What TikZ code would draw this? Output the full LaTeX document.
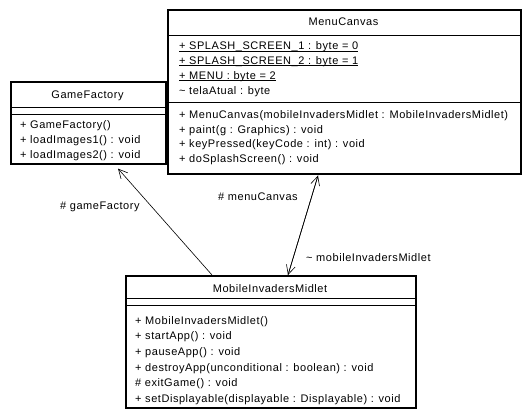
\documentclass[tikz,border=0pt]{standalone}
\usepackage{fontspec}
\setmainfont{Liberation Sans}
\newfontfamily\umlfont[LetterSpace=5]{Liberation Sans}
\usetikzlibrary{arrows.meta,calc}
\tikzset{
  classbox/.style={draw, line width=1.6pt, anchor=north west, inner sep=0pt},
  sep/.style={line width=0.9pt},
  member/.style={anchor=base west, inner sep=0pt, font=\umlfont\fontsize{11}{13}\selectfont},
  title/.style={anchor=base, inner sep=0pt, font=\umlfont\fontsize{11}{13}\selectfont},
  uline/.style={line width=0.8pt},
  assoc/.style={line width=0.6pt},
  openhead/.style={-{Straight Barb[length=9pt,width=9pt,line width=0.6pt]}},
  lbl/.style={inner sep=0pt, anchor=base west, font=\umlfont\fontsize{11}{13}\selectfont}
}
\begin{document}
\begin{tikzpicture}[x=1pt,y=-1pt]
\useasboundingbox (0,0) rectangle (530,420);
% MenuCanvas
\node[classbox, minimum width=353pt, minimum height=164pt] (mc) at (167,9) {};
\node[title] (mct) at (343.5,26) {MenuCanvas};
\draw[sep] (167,35) -- (520,35);
\draw[sep] (167,102) -- (520,102);
\node[member] (mca1) at (179,50) {+ SPLASH\_SCREEN\_1 : byte = 0};
\node[member] (mca2) at (179,64.5) {+ SPLASH\_SCREEN\_2 : byte = 1};
\node[member] (mca3) at (179,79) {+ MENU : byte = 2};
\node[member] (mca4) at (179,94) {\char`\~{} telaAtual : byte};
\foreach \n in {mca1,mca2,mca3}
  \draw[uline] ([yshift=-1.2pt]\n.base west) -- ([yshift=-1.2pt]\n.base east);
\node[member] (mco1) at (179,118) {+ MenuCanvas(mobileInvadersMidlet : MobileInvadersMidlet)};
\node[member] (mco2) at (179,133) {+ paint(g : Graphics) : void};
\node[member] (mco3) at (179,147.5) {+ keyPressed(keyCode : int) : void};
\node[member] (mco4) at (179,162) {+ doSplashScreen() : void};
% GameFactory
\node[classbox, minimum width=155pt, minimum height=82pt] (gf) at (10,81) {};
\node[title] (gft) at (87.5,98) {GameFactory};
\draw[sep] (10,107) -- (165,107);
\draw[sep] (10,114) -- (165,114);
\node[member] (gfo1) at (20,128.5) {+ GameFactory()};
\node[member] (gfo2) at (20,143.5) {+ loadImages1() : void};
\node[member] (gfo3) at (20,158.5) {+ loadImages2() : void};
% MobileInvadersMidlet
\node[classbox, minimum width=290pt, minimum height=132pt] (mim) at (125,275) {};
\node[title] (mimt) at (270,292) {MobileInvadersMidlet};
\draw[sep] (125,298) -- (415,298);
\draw[sep] (125,305) -- (415,305);
\node[member] (mimo1) at (135,324) {+ MobileInvadersMidlet()};
\node[member] (mimo2) at (135,339.5) {+ startApp() : void};
\node[member] (mimo3) at (135,355) {+ pauseApp() : void};
\node[member] (mimo4) at (135,371) {+ destroyApp(unconditional : boolean) : void};
\node[member] (mimo5) at (135,386.5) {\# exitGame() : void};
\node[member] (mimo6) at (135,402) {+ setDisplayable(displayable : Displayable) : void};
% associations
\coordinate (gfend) at ($(gf.south west)+(108,4)$);
\coordinate (mimgf) at ($(mim.north west)+(87,0)$);
\coordinate (mcend) at ($(mc.south west)+(151,1)$);
\coordinate (mimmc) at ($(mim.north west)+(163,0)$);
\draw[assoc, openhead] (mimgf) -- (gfend);
\draw[assoc, openhead] (mimmc) -- (mcend);
\draw[assoc, openhead] (mcend) -- (mimmc);
\node[lbl] (l1) at (60,209) {\# gameFactory};
\node[lbl] (l2) at (218,200) {\# menuCanvas};
\node[lbl] (l3) at (306,261) {\char`\~{} mobileInvadersMidlet};
\end{tikzpicture}
\end{document}
